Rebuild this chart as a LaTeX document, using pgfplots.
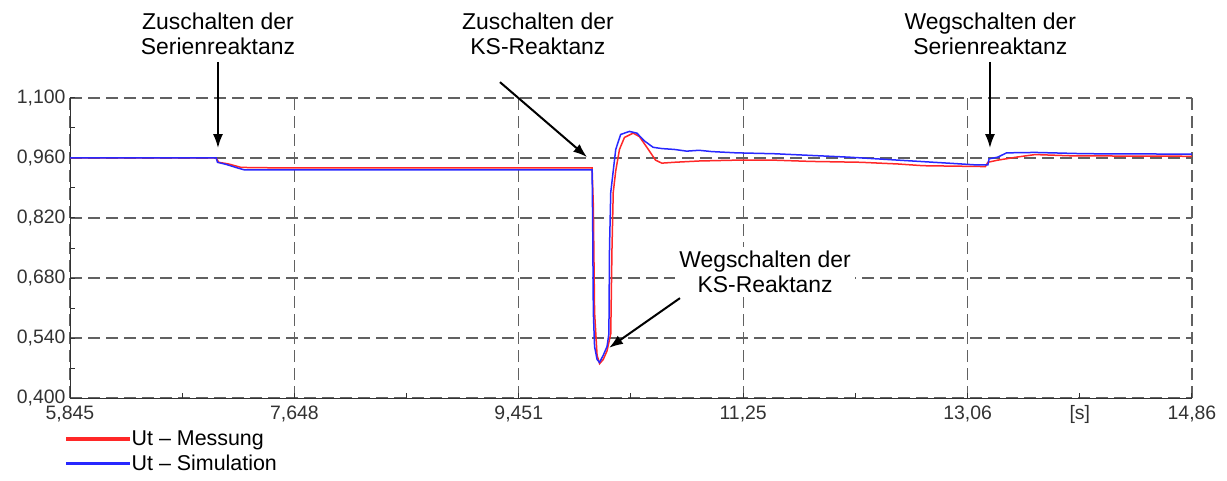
\documentclass[border=0pt]{standalone}
\usepackage{pgfplots}
\pgfplotsset{compat=1.18}
\usepackage{fontspec}
\setmainfont{Liberation Sans}
\usetikzlibrary{arrows.meta}

\definecolor{messrot}{RGB}{255,40,40}
\definecolor{simblau}{RGB}{40,40,255}
\definecolor{achsgrau}{RGB}{50,50,50}

\begin{document}
\begin{tikzpicture}
\useasboundingbox (-70bp,-83bp) rectangle (1157bp,398bp);
\begin{axis}[
  at={(0,0)}, anchor=origin,
  scale only axis,
  width=1122bp, height=300bp,
  xmin=5.845, xmax=14.86,
  ymin=0.4, ymax=1.1,
  axis x line=bottom, axis y line=left,
  axis line style={-, color=achsgrau, line width=1bp},
  xtick={5.845,7.648,9.451,11.254,13.057,14.86},
  xticklabels={{5,845},{7,648},{9,451},{11,25},{13,06},{14,86}},
  extra x ticks={13.9585},
  extra x tick labels={[s]},
  extra x tick style={grid=none, major tick length=5bp},
  ytick={0.4,0.54,0.68,0.82,0.96,1.1},
  yticklabel style={/pgf/number format/fixed, /pgf/number format/fixed zerofill,
    /pgf/number format/precision=3, /pgf/number format/use comma, xshift=-1bp},
  minor x tick num=1, minor y tick num=1,
  tick align=inside,
  major tick length=5bp, minor tick length=5bp,
  tick style={color=achsgrau, line width=1bp},
  ticklabel style={font=\fontsize{19.5}{21}\selectfont, text=achsgrau},
  /pgf/number format/assume math mode=true,
  xticklabel style={yshift=-4bp},
  grid=major,
  major grid style={dash pattern=on 12bp off 6bp, line width=1.3bp, color=black!62},
  clip=false,
  legend style={at={(0,0)}, anchor=north west, xshift=-4bp, yshift=-31bp,
    draw=none, fill=none, font=\fontsize{21.5}{23}\selectfont,
    row sep=4bp, inner sep=0pt},
  legend cell align=left,
  legend image code/.code={\fill[#1] (0bp,-0.5bp) rectangle (62bp,1.5bp);},
]
\addplot[color=messrot, line width=1.5bp] coordinates {
(5.845,0.960) (7.020,0.960) (7.040,0.950) (7.120,0.946) (7.220,0.938)
(7.500,0.937) (9.000,0.937) (10.040,0.937) (10.050,0.850) (10.060,0.600)
(10.080,0.500) (10.100,0.480) (10.130,0.490) (10.160,0.510) (10.190,0.550)
(10.200,0.750) (10.210,0.880) (10.230,0.930) (10.260,0.980) (10.300,1.008)
(10.370,1.018) (10.420,1.010) (10.480,0.985) (10.550,0.955) (10.600,0.948)
(10.700,0.950) (10.900,0.953) (11.200,0.955) (11.500,0.955) (11.800,0.952)
(12.200,0.950) (12.500,0.946) (12.700,0.942) (13.200,0.940) (13.220,0.950)
(13.300,0.955) (13.450,0.962) (13.600,0.968) (13.900,0.965) (14.860,0.964)
};
\addlegendentry{Ut -- Messung}
\addplot[color=simblau, line width=1.5bp] coordinates {
(5.845,0.960) (7.020,0.960) (7.030,0.950) (7.100,0.945) (7.200,0.936)
(7.250,0.932) (7.500,0.932) (9.000,0.932) (10.040,0.932) (10.045,0.800)
(10.050,0.600) (10.060,0.520) (10.080,0.490) (10.100,0.483) (10.130,0.500)
(10.160,0.520) (10.175,0.550) (10.180,0.750) (10.190,0.880) (10.210,0.930)
(10.230,0.980) (10.270,1.015) (10.340,1.022) (10.400,1.018) (10.460,1.000)
(10.530,0.985) (10.600,0.982) (10.700,0.980) (10.800,0.976) (10.900,0.978)
(11.000,0.975) (11.200,0.972) (11.500,0.970) (11.800,0.966) (12.100,0.962)
(12.500,0.955) (12.900,0.948) (13.120,0.944) (13.220,0.944) (13.230,0.958)
(13.300,0.962) (13.370,0.972) (13.600,0.973) (14.000,0.970) (14.860,0.969)
};
\addlegendentry{Ut -- Simulation}

\begin{scope}[every node/.style={font=\fontsize{23}{25}\selectfont, align=center}]
\node at (axis cs:7.034,1.25) {Zuschalten der\\Serienreaktanz};
\node at (axis cs:9.605,1.25) {Zuschalten der\\KS-Reaktanz};
\node at (axis cs:13.24,1.25) {Wegschalten der\\Serienreaktanz};
\node[fill=white, inner sep=4bp] at (axis cs:11.43,0.694) {Wegschalten der\\KS-Reaktanz};
\end{scope}
\begin{scope}[line width=2bp, -{Latex[length=14bp,width=10bp]}]
\draw (axis cs:7.034,1.184) -- (axis cs:7.034,0.983);
\draw (axis cs:9.300,1.137) -- (axis cs:10.000,0.962);
\draw (axis cs:13.237,1.184) -- (axis cs:13.237,0.983);
\draw (axis cs:10.746,0.633) -- (axis cs:10.176,0.517);
\end{scope}
\end{axis}
\end{tikzpicture}
\end{document}
